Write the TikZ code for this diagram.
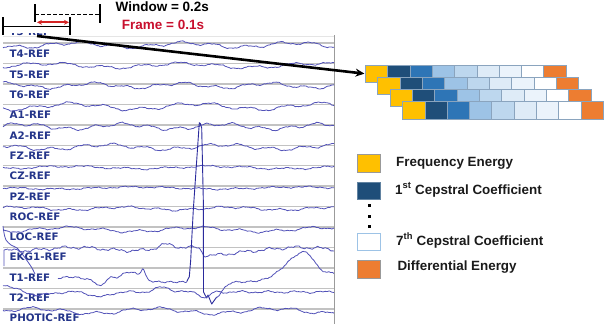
\documentclass[tikz,border=0pt]{standalone}
\usepackage{fontspec}
\setmainfont{Liberation Sans}
\newfontfamily\eegfont{DejaVu Sans}
\usetikzlibrary{arrows.meta}
\definecolor{wave}{HTML}{5252B8}
\definecolor{spikec}{HTML}{2A2A9C}
\definecolor{gridc}{HTML}{C2C2C2}
\definecolor{labelc}{HTML}{24358A}
\definecolor{cellb}{HTML}{8AA4BE}
\definecolor{legc}{HTML}{1A1A1A}
\definecolor{framec}{HTML}{C8102E}
\definecolor{redarr}{HTML}{D42424}
\definecolor{fyel}{HTML}{FFC000}
\definecolor{cA}{HTML}{1F4E79}
\definecolor{cB}{HTML}{2E75B6}
\definecolor{cC}{HTML}{9DC3E6}
\definecolor{cD}{HTML}{BDD7EE}
\definecolor{cE}{HTML}{DEEBF7}
\definecolor{cF}{HTML}{EBF3FB}
\definecolor{cG}{HTML}{FFFFFF}
\definecolor{forg}{HTML}{ED7D31}
\newcommand{\eegwave}[7]{%
  \draw[trace] plot[domain=3:334,samples=300,variable=\t]
   (\t,{#1+#2*sin(#3*\t+#4)+#5*sin(#6*\t+#7)+0.4*sin(29*\t+2*#4)
        +0.22*sin(360*frac(0.19*\t+#4/360))+0.15*sin(360*frac(0.33*\t+#7/360))});}
\begin{document}
\begin{tikzpicture}[x=1pt,y=-1pt,
  declare function={gau(\z,\c,\w)=exp(max(-30,0-((\z-\c)/\w)^2));},
  trace/.style={draw=wave, line width=0.8pt, line join=round},
  spikeline/.style={draw=spikec, line width=0.9pt, line join=round},
  gridline/.style={draw=gridc, line width=1.4pt},
  chlabel/.style={anchor=west, inner sep=0pt, text=labelc, font=\eegfont\bfseries\fontsize{10.3}{12}\selectfont},
  cell/.style={draw=cellb, line width=0.8pt, minimum width=22.3pt, minimum height=17.5pt, inner sep=0pt, anchor=north west},
  legbox/.style={line width=0.9pt, minimum width=22.7pt, minimum height=17.6pt, inner sep=0pt, anchor=north west},
  legtext/.style={anchor=base west, inner sep=0pt, text=legc, font=\bfseries\fontsize{13.4}{16}\selectfont},
  toptext/.style={anchor=base west, inner sep=0pt, font=\bfseries\fontsize{13.5}{15}\selectfont},
  dotsq/.style={fill=black, minimum size=3pt, inner sep=0pt},
  bracket/.style={line width=1.5pt, draw=black},
  bigarrow/.style={line width=2.6pt, draw=black, -{Stealth[length=9pt,width=8pt]}},
  redarrow/.style={line width=1.8pt, draw=redarr, {Stealth[length=5pt,width=5pt]}-{Stealth[length=5pt,width=5pt]}},
]
\useasboundingbox (0,0) rectangle (606,324);

% ---------- EEG panel ----------
\draw[draw=gray!20, line width=1.5pt] (3,36.5) -- (334,36.5);
\foreach \i in {0,...,13} \draw[gridline] (3,{43+20.45*\i}) -- (334,{43+20.45*\i});
\draw[draw=gridc!80!black, line width=1pt] (334,35) -- (334,324);

\begin{scope}
  \clip (0,33.3) rectangle (120,38);
  \node[chlabel] (t3) at (9.5,31.5) {T3-REF};
\end{scope}
\node[chlabel] (t4)  at (9.5,54)    {T4-REF};
\node[chlabel] (t5)  at (9.5,75)    {T5-REF};
\node[chlabel] (t6)  at (9.5,95)    {T6-REF};
\node[chlabel] (a1)  at (9.5,115)   {A1-REF};
\node[chlabel] (a2)  at (9.5,135.5) {A2-REF};
\node[chlabel] (fz)  at (9.5,155.7) {FZ-REF};
\node[chlabel] (cz)  at (9.5,176)   {CZ-REF};
\node[chlabel] (pz)  at (9.5,197)   {PZ-REF};
\node[chlabel] (roc) at (9.5,217)   {ROC-REF};
\node[chlabel] (loc) at (9.5,237)   {LOC-REF};
\node[chlabel] (ekg) at (9.5,257)   {EKG1-REF};
\node[chlabel] (t1)  at (9.5,278)   {T1-REF};
\node[chlabel] (t2)  at (9.5,298)   {T2-REF};
\node[chlabel] (ph)  at (9.5,318)   {PHOTIC-REF};

\eegwave{45}{2.2}{3.3}{20}{1.5}{11}{80}
\eegwave{65.5}{2}{2.7}{140}{1.4}{9.5}{10}
\eegwave{85.5}{2.2}{4.1}{250}{1.3}{12}{200}
\eegwave{106.5}{2.8}{2.9}{60}{1.6}{10}{300}
\eegwave{126.5}{2.4}{3.6}{190}{1.5}{13}{120}
\eegwave{147}{2.2}{3.1}{300}{1.5}{11.5}{40}
\eegwave{167.5}{1.2}{2.5}{100}{0.8}{9}{220}
\eegwave{188}{1.0}{2.2}{330}{0.6}{10}{70}
\eegwave{208.5}{1.4}{3.4}{210}{0.9}{12}{160}
\eegwave{229.5}{2}{2.8}{80}{1.2}{10.5}{260}
\eegwave{311}{2.5}{3.0}{170}{1.5}{11}{290}
% EKG
\draw[trace] plot[domain=8:334,samples=300,variable=\t]
  (\t,{249+1.6*sin(3.2*\t+30)+1.1*sin(14*\t+100)+0.7*sin(37*\t+50)
       +0.3*sin(360*frac(0.27*\t))
       -4*gau(\t,165,10)
       +(\t<205)*7*gau(\t,205,4)
       +(\t>=205)*7*gau(\t,205,30)});
% left edge fragments
\draw[trace] plot[smooth] coordinates {(3,226) (4,233) (6,240) (11,245) (17,248) (23,255) (28,262) (32,268) (35,274)};
\draw[trace] (8,249) -- (4,250) -- (4,266);
% T1 with spike
\draw[trace] plot[domain=58:186.7,samples=130,variable=\t]
  (\t,{282-5*gau(\t,70,22)+5*gau(\t,100,5)-3*gau(\t,110,5)-10*gau(\t,130,14)-9*gau(\t,143,3)
       +0.6*sin(31*\t+40)+0.3*sin(360*frac(0.25*\t))});
\draw[spikeline] (186.7,281.7) -- (189.3,276.7) -- (190.7,260) -- (191.7,240) -- (193.3,210) -- (199.3,122.7) -- (200.3,123.5) -- (201.7,128) -- (203.3,200) -- (203.5,292) -- (206.7,298) -- (208,295) -- (211.7,304) -- (216.7,297);
\draw[trace] plot[domain=216.7:334,samples=120,variable=\t]
  (\t,{282+15*gau(\t,216,9)-30*((\t<305)*gau(\t,305,26.5)+(\t>=305)*(0.3+0.7*gau(\t,305,12)))
       +0.6*sin(27*\t+10)+0.3*sin(360*frac(0.27*\t))});
% T2
\draw[trace] plot[domain=3:334,samples=300,variable=\t]
  (\t,{292-7*gau(\t,3,15)+3*gau(\t,40,15)+5*gau(\t,100,12)-5*gau(\t,163,10)+6*gau(\t,205,6)
       +0.8*sin(13*\t+20)+0.5*sin(29*\t+70)+0.25*sin(360*frac(0.23*\t))});

% ---------- window / frame brackets ----------
\draw[bracket] (3,17) -- (3,35) (3,26.7) -- (70,26.7) (70,17) -- (70,35);
\draw[bracket] (35,4) -- (35,22) (100,4) -- (100,23);
\draw[bracket, dash pattern=on 3.5pt off 2.5pt] (35,14.3) -- (100,14.3);
\draw[redarrow] (37,22.3) -- (69,22.3);
\node[toptext] (win) at (115.5,12) {Window = 0.2s};
\node[toptext, text=framec] (frm) at (121.7,29.3) {Frame = 0.1s};

% ---------- feature matrix ----------
\foreach \r in {0,...,3}{
  \foreach \c/\col in {0/fyel,1/cA,2/cB,3/cC,4/cD,5/cE,6/cF,7/cG,8/forg}{
    \node[cell, fill=\col] (f\r\c) at ({365+12.4*\r+22.3*\c},{64.5+12.2*\r}) {};
  }
}
\coordinate (winstart) at (37,36);
\draw[bigarrow] (winstart) -- ([xshift=-0.5pt]f00.west);

% ---------- legend ----------
\node[legbox, fill=fyel, draw=black!40] (lg1) at (357.3,154) {};
\node[legbox, fill=cA, draw=cA!70!white] (lg2) at (357.3,181.7) {};
\node[legbox, fill=white, draw=cC] (lg3) at (357.3,232.7) {};
\node[legbox, fill=forg, draw=black!40] (lg4) at (357.3,260) {};
\node[dotsq] (d1) at (369,205) {};
\node[dotsq] (d2) at (369,216) {};
\node[dotsq] (d3) at (369,226) {};
\node[legtext] (lt1) at (396,166) {Frequency Energy};
\node[legtext] (lt2) at (395,194) {1\textsuperscript{st} Cepstral Coefficient};
\node[legtext] (lt3) at (396,245) {7\textsuperscript{th} Cepstral Coefficient};
\node[legtext] (lt4) at (397.3,270.7) {Differential Energy};
\end{tikzpicture}
\end{document}
